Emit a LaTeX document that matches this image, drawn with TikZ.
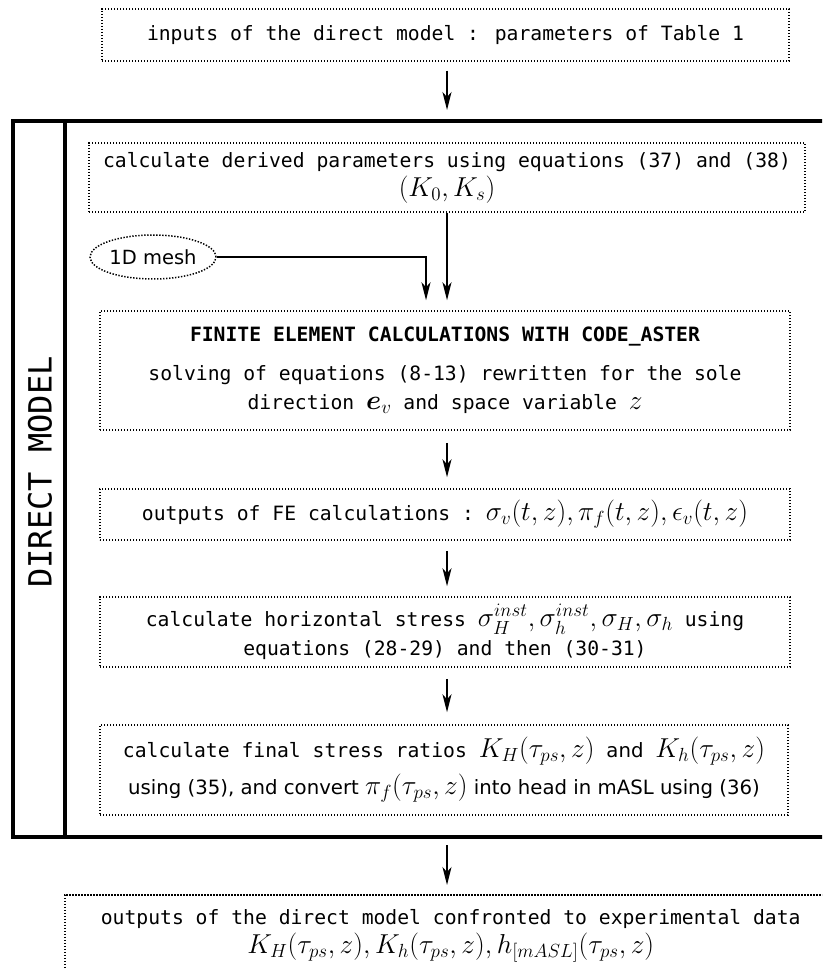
\documentclass[tikz,border=0pt]{standalone}
\usepackage{amsmath}
\usepackage{graphicx}
\usepackage{fontspec}
\newfontfamily\monof{DejaVu Sans Mono}
\newfontfamily\sansf{DejaVu Sans}
\usetikzlibrary{arrows.meta,shapes.geometric}
\newcommand{\mth}[1]{\scalebox{1.32}{$#1$}}

\begin{document}
\begin{tikzpicture}[x=1pt,y=-1pt]
    \path[use as bounding box] (0,0) rectangle (822,968);
    \clip (0,0) rectangle (822,968);

    \tikzset{dotbox/.style={draw=black,line width=1.5pt,dash pattern=on 1.4pt off 1.6pt,align=center,inner sep=0pt,font=\monof\fontsize{19.7}{29}\selectfont},
             arr/.style={-{Stealth[length=18pt,width=9pt,inset=5pt]},line width=1.4pt}}

    \draw[line width=3.8pt] (830,121) -- (13,121) -- (13,837) -- (830,837);
    \draw[line width=3.8pt] (65,121) -- (65,837);
    \node[rotate=90,font=\monof\fontsize{32}{32}\selectfont] (dm) at (40,472) {DIRECT MODEL};

    \node[dotbox,minimum width=687pt,minimum height=52pt] (inp) at (445.5,35) {inputs of the direct model : parameters of Table 1};
    \node[dotbox,minimum width=716pt,minimum height=69pt] (deriv) at (447,177.5) {calculate derived parameters using equations (37) and (38)\\ \mth{(K_0,K_s)}};
    \node[dotbox,ellipse,font=\sansf\fontsize{19.5}{24}\selectfont,minimum width=126pt,minimum height=44pt] (mesh) at (153,257) {1D mesh};
    \node[dotbox,minimum width=690pt,minimum height=119pt] (fe) at (445,370.5) {\textbf{FINITE ELEMENT CALCULATIONS WITH CODE\_ASTER}\\[10pt] solving of equations (8-13) rewritten for the sole\\ direction \mth{\boldsymbol{e}_v} and space variable \mth{z}};
    \node[dotbox,minimum width=690pt,minimum height=51pt] (feout) at (445,514.5) {outputs of FE calculations :\ \mth{\sigma_v(t,z),\pi_f(t,z),\epsilon_v(t,z)}};
    \node[dotbox,minimum width=690pt,minimum height=70pt] (hstress) at (445,632) {calculate horizontal stress \mth{\sigma_H^{inst},\sigma_h^{inst},\sigma_H,\sigma_h} using\\ equations (28-29) and then (30-31)};
    \node[dotbox,minimum width=688pt,minimum height=90pt] (ratio) at (444,770) {calculate final stress ratios \mth{K_H(\tau_{ps},z)} {\sansf and} \mth{K_h(\tau_{ps},z)}\\[8pt] {\sansf using (35), and convert \mth{\pi_f(\tau_{ps},z)} into head in mASL using (36)}};
    \node[dotbox,anchor=north west,minimum width=772pt,minimum height=82pt] (out) at (64,894) {outputs of the direct model confronted to experimental data\\ \mth{K_H(\tau_{ps},z),K_h(\tau_{ps},z),h_{[mASL]}(\tau_{ps},z)}};

    \coordinate (fin) at (447,110);
    \coordinate (fout) at (447,845);

    \draw[arr,shorten <=9pt] (inp.south -| fin) -- (fin);
    \draw[arr,shorten >=10pt] (deriv.south) -- (deriv.south |- fe.north);
    \draw[arr,shorten >=10pt] (mesh.east) -| ([xshift=-21pt]deriv.south |- fe.north);
    \draw[arr,shorten <=12pt,shorten >=11pt] (fe.south -| fin) -- (feout.north -| fin);
    \draw[arr,shorten <=10pt,shorten >=10pt] (feout.south -| fin) -- (hstress.north -| fin);
    \draw[arr,shorten <=11pt,shorten >=12pt] (hstress.south -| fin) -- (ratio.north -| fin);
    \draw[arr,shorten >=9pt] (fout) -- (fout |- out.north);
\end{tikzpicture}
\end{document}
